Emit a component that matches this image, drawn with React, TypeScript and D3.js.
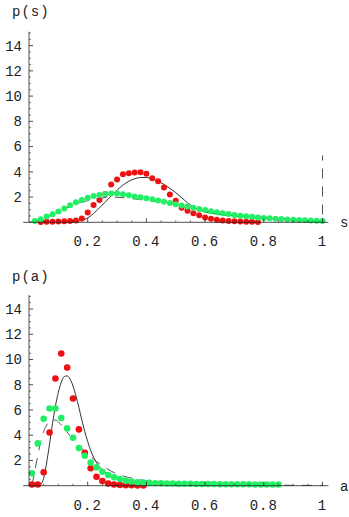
import * as d3 from 'd3';

// ---- top panel: p(s) ----
const sRed: [number, number][] = [
  [0.04, 0.03], [0.06, 0.05], [0.08, 0.05], [0.1, 0.06], [0.12, 0.08], [0.14, 0.1],
  [0.16, 0.15], [0.18, 0.3], [0.2, 0.77], [0.22, 1.37], [0.24, 1.77], [0.26, 2.25],
  [0.28, 3.0], [0.3, 3.4], [0.32, 3.8], [0.34, 3.88], [0.36, 3.95], [0.38, 3.97],
  [0.4, 3.85], [0.42, 3.5], [0.44, 3.25], [0.46, 2.75], [0.48, 2.2], [0.5, 1.7],
  [0.52, 1.15], [0.54, 0.92], [0.56, 0.71], [0.58, 0.55], [0.6, 0.38], [0.62, 0.28],
  [0.64, 0.2], [0.66, 0.15], [0.68, 0.1], [0.7, 0.08], [0.72, 0.06], [0.74, 0.05],
  [0.76, 0.04], [0.78, 0.03],
];

const sGreen: [number, number][] = [
  [0.02, 0.1], [0.04, 0.24], [0.06, 0.45], [0.08, 0.63], [0.1, 0.85], [0.12, 1.1],
  [0.14, 1.36], [0.16, 1.58], [0.18, 1.77], [0.2, 1.94], [0.22, 2.08], [0.24, 2.17],
  [0.26, 2.24], [0.28, 2.28], [0.3, 2.28], [0.32, 2.23], [0.34, 2.15], [0.36, 2.05],
  [0.38, 1.98], [0.4, 1.9], [0.42, 1.82], [0.44, 1.73], [0.46, 1.63], [0.48, 1.53],
  [0.5, 1.43], [0.52, 1.34], [0.54, 1.25], [0.56, 1.15], [0.58, 1.06], [0.6, 0.97],
  [0.62, 0.88], [0.64, 0.8], [0.66, 0.72], [0.68, 0.65], [0.7, 0.58], [0.72, 0.52],
  [0.74, 0.47], [0.76, 0.43], [0.78, 0.39], [0.8, 0.35], [0.82, 0.32], [0.84, 0.29],
  [0.86, 0.26], [0.88, 0.23], [0.9, 0.2], [0.92, 0.18], [0.94, 0.16], [0.96, 0.14],
  [0.98, 0.12], [1.0, 0.1],
];

const sSolid: [number, number][] = [
  [0.12, 0], [0.15, 0.05], [0.18, 0.15], [0.2, 0.35], [0.22, 0.7], [0.24, 1.15],
  [0.26, 1.6], [0.28, 2.1], [0.3, 2.55], [0.32, 2.95], [0.34, 3.25], [0.36, 3.45],
  [0.38, 3.55], [0.4, 3.55], [0.42, 3.45], [0.44, 3.25], [0.46, 3.0], [0.48, 2.7],
  [0.5, 2.35], [0.52, 1.95], [0.54, 1.55], [0.56, 1.22], [0.58, 0.98], [0.6, 0.82],
  [0.64, 0.65], [0.68, 0.55], [0.72, 0.47], [0.76, 0.4], [0.8, 0.33], [0.85, 0.25],
  [0.9, 0.18], [0.95, 0.12], [1.0, 0.08],
];

const sDashed: [number, number][] = [
  [0.0, 0], [0.04, 0.22], [0.08, 0.6], [0.12, 1.05], [0.16, 1.45], [0.2, 1.72],
  [0.24, 1.9], [0.28, 2.0], [0.32, 1.95], [0.36, 1.85], [0.4, 1.75], [0.45, 1.6],
  [0.5, 1.42], [0.55, 1.2], [0.6, 0.98], [0.65, 0.78], [0.7, 0.62], [0.75, 0.5],
  [0.8, 0.4], [0.85, 0.3], [0.9, 0.22], [0.95, 0.15], [1.0, 0.1], [1.0, 5.3],
];

// ---- bottom panel: p(a) ----
const aRed: [number, number][] = [
  [0.01, 0.1], [0.03, 0.1], [0.05, 1.06], [0.07, 4.22], [0.09, 8.49], [0.11, 10.47],
  [0.13, 9.36], [0.15, 6.91], [0.17, 4.46], [0.19, 2.6], [0.21, 1.38], [0.23, 0.71],
  [0.25, 0.37], [0.27, 0.18], [0.29, 0.1], [0.31, 0.06], [0.33, 0.04], [0.35, 0.03],
  [0.37, 0.02], [0.39, 0.02],
];

const aGreen: [number, number][] = [
  [0.01, 0.98], [0.03, 3.35], [0.05, 5.3], [0.07, 6.12], [0.09, 6.12], [0.11, 5.37],
  [0.13, 4.54], [0.15, 3.8], [0.17, 2.98], [0.19, 2.37], [0.21, 1.83], [0.23, 1.45],
  [0.25, 1.1], [0.27, 0.84], [0.29, 0.66], [0.31, 0.53], [0.33, 0.4], [0.35, 0.32],
  [0.37, 0.26], [0.39, 0.24], [0.41, 0.22], [0.43, 0.2], [0.45, 0.19], [0.47, 0.18],
  [0.49, 0.17], [0.51, 0.16], [0.53, 0.15], [0.55, 0.15], [0.57, 0.14], [0.59, 0.14],
  [0.61, 0.13], [0.63, 0.13], [0.65, 0.12], [0.67, 0.12], [0.69, 0.12], [0.71, 0.11],
  [0.73, 0.11], [0.75, 0.11], [0.77, 0.1], [0.79, 0.1], [0.81, 0.1], [0.83, 0.1],
  [0.85, 0.1],
];

const aSolid: [number, number][] = [
  [0.03, 0], [0.04, 0.1], [0.05, 0.6], [0.06, 1.8], [0.07, 3.3], [0.08, 4.9],
  [0.09, 6.3], [0.1, 7.4], [0.11, 8.2], [0.12, 8.65], [0.13, 8.7], [0.14, 8.45],
  [0.15, 7.9], [0.16, 7.1], [0.17, 6.2], [0.18, 5.2], [0.19, 4.3], [0.2, 3.5],
  [0.21, 2.8], [0.22, 2.25], [0.24, 1.5], [0.26, 1.05], [0.28, 0.78], [0.3, 0.57],
  [0.33, 0.4], [0.36, 0.28], [0.4, 0.18], [0.45, 0.1], [0.5, 0.06], [0.6, 0.03],
  [0.7, 0.01],
];

const aDashed: [number, number][] = [
  [0.01, 0], [0.02, 1.2], [0.03, 2.4], [0.04, 3.5], [0.05, 4.3], [0.06, 4.8],
  [0.07, 5.1], [0.08, 5.2], [0.09, 5.2], [0.1, 5.05], [0.12, 4.55], [0.14, 3.95],
  [0.16, 3.4], [0.18, 2.95], [0.2, 2.5], [0.22, 2.1], [0.25, 1.6], [0.28, 1.15],
  [0.31, 0.85], [0.35, 0.6], [0.4, 0.4], [0.45, 0.28], [0.5, 0.2], [0.6, 0.12],
  [0.7, 0.08], [0.8, 0.05], [0.9, 0.03], [1.0, 0.02],
];

const xMajor = [0.2, 0.4, 0.6, 0.8, 1];
const yMajor = [2, 4, 6, 8, 10, 12, 14];

const FONT = "'Liberation Mono', 'Courier New', monospace";
const RED = '#ee1111';
const GREEN = '#22ee66';
const INK = '#222';

interface PanelProps {
  top: number;
  zeroY: number;
  yLabel: string;
  xLabel: string;
  red: [number, number][];
  green: [number, number][];
  solid: [number, number][];
  dashed: [number, number][];
  r: number;
}

function Panel({ top, zeroY, yLabel, xLabel, red, green, solid, dashed, r }: PanelProps) {
  const x = d3.scaleLinear().domain([0, 1]).range([29, 322.5]);
  const y = d3.scaleLinear().domain([0, 14]).range([zeroY, zeroY - 14 * 12.62]);
  const line = d3
    .line<[number, number]>()
    .x((d) => x(d[0]))
    .y((d) => y(d[1]))
    .curve(d3.curveMonotoneX);
  const straight = d3
    .line<[number, number]>()
    .x((d) => x(d[0]))
    .y((d) => y(d[1]));

  const xMinor = d3.range(0.05, 1.001, 0.05).filter((v) => !xMajor.some((m) => Math.abs(m - v) < 1e-6));
  const yMinor = d3.range(0.5, 15.01, 0.5).filter((v) => !yMajor.some((m) => Math.abs(m - v) < 1e-6));

  // dashed curve: smooth part plus the vertical spike (if any) drawn as a straight segment
  const last = dashed[dashed.length - 1];
  const prev = dashed[dashed.length - 2];
  const spike = last[0] === prev[0];
  const dashedSmooth = spike ? dashed.slice(0, -1) : dashed;

  return (
    <g>
      <text x={12} y={top + 16} fontFamily={FONT} fontSize={14} letterSpacing={1} fill={INK}>
        {yLabel}
      </text>

      <path d={line(solid) ?? ''} fill="none" stroke="#333" strokeWidth={1} />
      <path
        d={(line(dashedSmooth) ?? '') + (spike ? straight([prev, last])!.replace('M', 'L') : '')}
        fill="none"
        stroke="#555"
        strokeWidth={1}
        strokeDasharray="10 8"
      />

      {red.map((d, i) => (
        <circle key={`r${i}`} cx={x(d[0])} cy={y(d[1])} r={r} fill={RED} />
      ))}
      {green.map((d, i) => (
        <circle key={`g${i}`} cx={x(d[0])} cy={y(d[1])} r={r} fill={GREEN} />
      ))}

      {/* axes */}
      <line x1={x(-0.02)} x2={x(1.02)} y1={y(0)} y2={y(0)} stroke={INK} strokeWidth={0.8} />
      <line x1={x(0)} x2={x(0)} y1={y(0)} y2={y(15.1)} stroke={INK} strokeWidth={0.8} />
      {xMajor.map((v) => (
        <g key={`xm${v}`}>
          <line x1={x(v)} x2={x(v)} y1={y(0)} y2={y(0) - 4} stroke={INK} strokeWidth={0.8} />
          <text
            x={x(v)}
            y={y(0) + 24}
            textAnchor="middle"
            fontFamily={FONT}
            fontSize={14}
            letterSpacing={1}
            fill={INK}
          >
            {String(v)}
          </text>
        </g>
      ))}
      {xMinor.map((v) => (
        <line key={`xn${v}`} x1={x(v)} x2={x(v)} y1={y(0)} y2={y(0) - 2} stroke={INK} strokeWidth={0.6} />
      ))}
      {yMajor.map((v) => (
        <g key={`ym${v}`}>
          <line x1={x(0)} x2={x(0) + 4} y1={y(v)} y2={y(v)} stroke={INK} strokeWidth={0.8} />
          <text x={22} y={y(v)} dy="0.35em" textAnchor="end" fontFamily={FONT} fontSize={14} fill={INK}>
            {v}
          </text>
        </g>
      ))}
      {yMinor.map((v) => (
        <line key={`yn${v}`} x1={x(0)} x2={x(0) + 2} y1={y(v)} y2={y(v)} stroke={INK} strokeWidth={0.6} />
      ))}
      <text x={340} y={y(0) + 5} fontFamily={FONT} fontSize={14} fill={INK}>
        {xLabel}
      </text>
    </g>
  );
}

export default function App() {
  return (
    <svg
      width={349}
      height={517}
      style={{ position: 'absolute', left: 0, top: 0, background: '#fff' }}
    >
      <Panel
        top={0}
        zeroY={222.3}
        yLabel="p(s)"
        xLabel="s"
        red={sRed}
        green={sGreen}
        solid={sSolid}
        dashed={sDashed}
        r={3}
      />
      <Panel
        top={265}
        zeroY={485.7}
        yLabel="p(a)"
        xLabel="a"
        red={aRed}
        green={aGreen}
        solid={aSolid}
        dashed={aDashed}
        r={3.3}
      />
    </svg>
  );
}
